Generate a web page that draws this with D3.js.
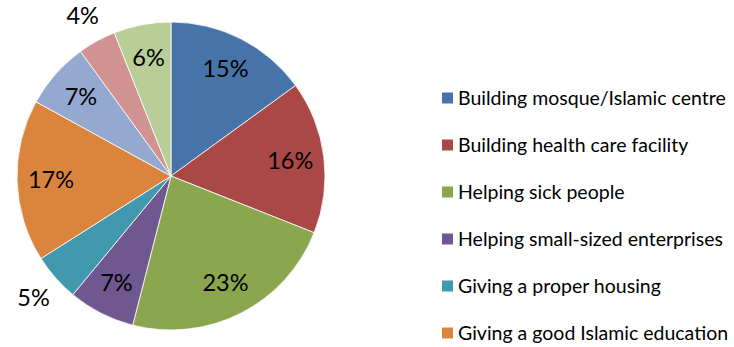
<!DOCTYPE html>
<html>
<head>
<meta charset="utf-8">
<script src="https://cdn.jsdelivr.net/npm/d3@7"></script>
<style>
  body { margin: 0; background: #fff; }
  svg text { font-family: Lato, "Open Sans", sans-serif; }
</style>
</head>
<body>
<svg class="chart" width="734" height="347"></svg>
<script>
// slice values (percent), clockwise from 12 o'clock
var values = [15, 16, 23, 7, 5, 17, 7, 4, 6];
var colors = ["#4674A8", "#A94846", "#8AA64E", "#6F5790", "#4198AF",
              "#DB843D", "#93A9CF", "#D19392", "#B9CD96"];
// only the first six entries show up in the legend
var legendLabels = ["Building mosque/Islamic centre", "Building health care facility",
  "Helping sick people", "Helping small-sized enterprises",
  "Giving a proper housing", "Giving a good Islamic education"];
// labels that sit outside the pie
var outsideIdx = [4, 7];

var svg = d3.select("svg.chart");
var cx = 171, cy = 176, r = 154;

var g = svg.append("g").attr("transform", "translate(" + cx + "," + cy + ")");

var pie = d3.pie().sort(null).value(function(d) { return d; });
var arcs = pie(values);

var arc = d3.arc().innerRadius(0).outerRadius(r);
var inArc = d3.arc().innerRadius(r * 0.78).outerRadius(r * 0.78);
var outArc = d3.arc().innerRadius(r * 1.19).outerRadius(r * 1.19);

g.selectAll("path.slice")
  .data(arcs)
  .enter().append("path")
  .attr("class", "slice")
  .attr("d", arc)
  .attr("fill", function(d, i) { return colors[i]; })
  .attr("stroke", "#fff")
  .attr("stroke-width", 0.8);

g.selectAll("text.lbl")
  .data(arcs)
  .enter().append("text")
  .attr("class", "lbl")
  .attr("transform", function(d, i) {
    var a = outsideIdx.indexOf(i) >= 0 ? outArc : inArc;
    return "translate(" + a.centroid(d) + ")";
  })
  .attr("text-anchor", "middle")
  .attr("dy", "0.36em")
  .attr("font-size", 23.5)
  .attr("fill", "#000")
  .text(function(d) { return d.data + "%"; });

// legend
var ly = d3.scalePoint()
  .domain(d3.range(legendLabels.length))
  .range([98, 333]);

var leg = svg.append("g");
var item = leg.selectAll("g")
  .data(legendLabels)
  .enter().append("g")
  .attr("transform", function(d, i) { return "translate(442," + ly(i) + ")"; });

item.append("rect")
  .attr("x", 0).attr("y", -5.5)
  .attr("width", 11).attr("height", 11)
  .attr("fill", function(d, i) { return colors[i]; });

item.append("text")
  .attr("x", 16)
  .attr("dy", "0.36em")
  .attr("font-size", 19.5)
  .attr("fill", "#000")
  .text(function(d) { return d; });
</script>
</body>
</html>
